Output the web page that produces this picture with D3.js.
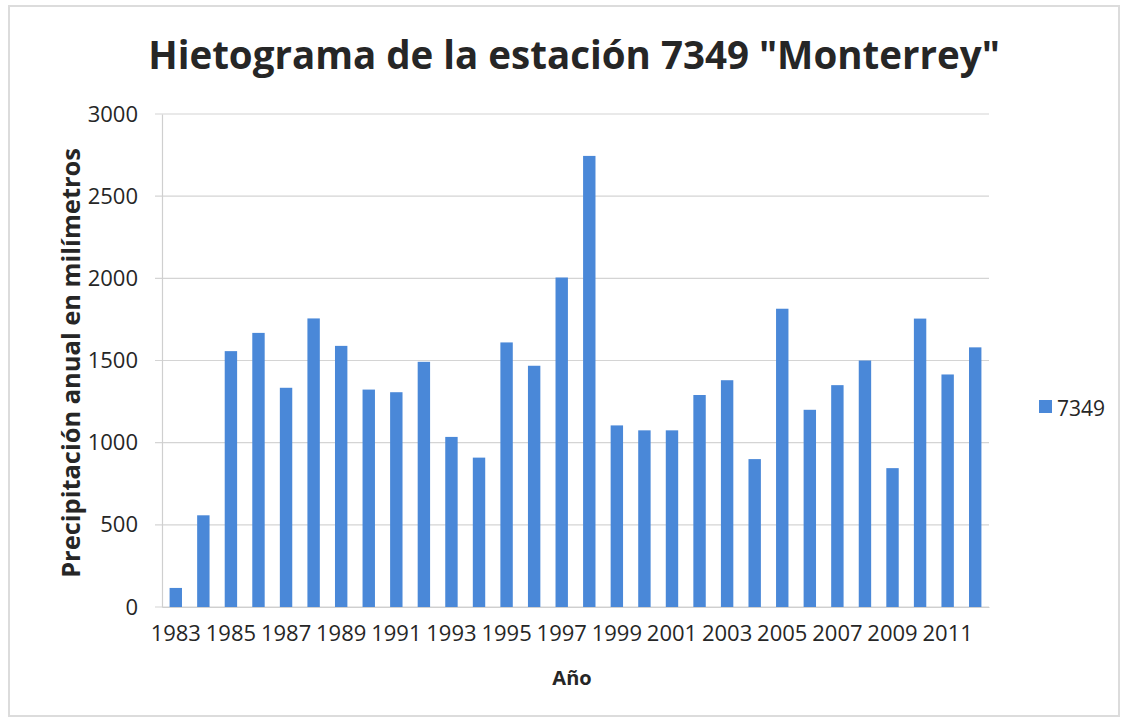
<!DOCTYPE html>
<html>
<head>
<meta charset="utf-8">
<script src="https://cdn.jsdelivr.net/npm/d3@7"></script>
<style>
  body { margin: 0; background: #fff; }
  svg text { font-family: "Open Sans", "Noto Sans", sans-serif; fill: #262626; }
</style>
</head>
<body>
<div id="chart"></div>
<script>
// data
const years = d3.range(1983, 2013).map(String);
const precip = [116, 558, 1557, 1668, 1334, 1756, 1589, 1323, 1307, 1492,
                1035, 909, 1610, 1468, 2005, 2745, 1105, 1075, 1075, 1290,
                1380, 900, 1815, 1200, 1350, 1500, 845, 1755, 1415, 1580];
const yTicks = [0, 500, 1000, 1500, 2000, 2500, 3000];
const xLabels = years.filter((d, i) => i % 2 === 0);
const seriesName = "7349";

const W = 1129, H = 723;
const margin = {top: 114, right: 140, bottom: 116, left: 162};
const width = W - margin.left - margin.right,
      height = H - margin.top - margin.bottom;

const svg = d3.select("#chart").append("svg")
    .attr("width", W)
    .attr("height", H);

// outer frame
svg.append("rect")
    .attr("x", 9).attr("y", 6)
    .attr("width", 1110).attr("height", 710)
    .attr("fill", "none")
    .attr("stroke", "#dcdcdc")
    .attr("stroke-width", 2);

const g = svg.append("g")
    .attr("transform", `translate(${margin.left},${margin.top})`);

const x = d3.scaleBand()
    .domain(years)
    .range([0, width])
    .paddingInner(0.55)
    .paddingOuter(0.275);

const y = d3.scaleLinear()
    .domain([0, 3000])
    .range([height, 0]);

// gridlines
g.append("g")
    .selectAll("line")
    .data(yTicks)
    .join("line")
      .attr("x1", -7).attr("x2", width)
      .attr("y1", d => y(d)).attr("y2", d => y(d))
      .attr("stroke", "#d4d4d4")
      .attr("stroke-width", 1.2);

// y axis
const yAxis = g.append("g")
    .call(d3.axisLeft(y).tickValues(yTicks).tickFormat(d3.format("d"))
      .tickSize(0).tickPadding(24));
yAxis.select(".domain").attr("stroke", "#cfcfcf").attr("stroke-width", 1.2);
yAxis.selectAll("text")
    .style("font-size", "22px")
    .attr("fill", "#262626");

// bars
g.append("g")
    .selectAll("rect")
    .data(precip)
    .join("rect")
      .attr("x", (d, i) => x(years[i]))
      .attr("y", d => y(d))
      .attr("width", x.bandwidth())
      .attr("height", d => y(0) - y(d))
      .attr("fill", "#4a88d8");

// x axis
const xAxis = g.append("g")
    .attr("transform", `translate(0,${height})`)
    .call(d3.axisBottom(x).tickValues(xLabels).tickSize(0).tickPadding(18));
xAxis.select(".domain").attr("stroke", "#cfcfcf").attr("stroke-width", 1.2);
xAxis.selectAll("text")
    .style("font-size", "22px")
    .attr("fill", "#262626");

// stretch text to a measured width
function fitText(sel, target) {
  let fs = parseFloat(sel.style("font-size"));
  const len = sel.node().getComputedTextLength();
  sel.style("font-size", (fs * target / len) + "px");
}

// title
const title = svg.append("text")
    .attr("x", 574).attr("y", 69)
    .attr("text-anchor", "middle")
    .style("font-weight", "bold")
    .style("font-size", "34px")
    .attr("fill", "#1a1a1a")
    .text('Hietograma de la estación 7349 "Monterrey"');
fitText(title, 852);

// y axis label
const yLab = svg.append("text")
    .attr("transform", "translate(80,363) rotate(-90)")
    .attr("text-anchor", "middle")
    .style("font-weight", "bold")
    .style("font-size", "21px")
    .text("Precipitación anual en milímetros");
fitText(yLab, 430);

// x axis label
svg.append("text")
    .attr("x", 572).attr("y", 685)
    .attr("text-anchor", "middle")
    .style("font-weight", "bold")
    .style("font-size", "20px")
    .text("Año");

// legend
const leg = svg.append("g").attr("transform", "translate(1039,400)");
leg.append("rect")
    .attr("width", 13).attr("height", 13)
    .attr("fill", "#4a88d8");
leg.append("text")
    .attr("x", 18).attr("y", 16)
    .style("font-size", "21px")
    .text(seriesName);
</script>
</body>
</html>
